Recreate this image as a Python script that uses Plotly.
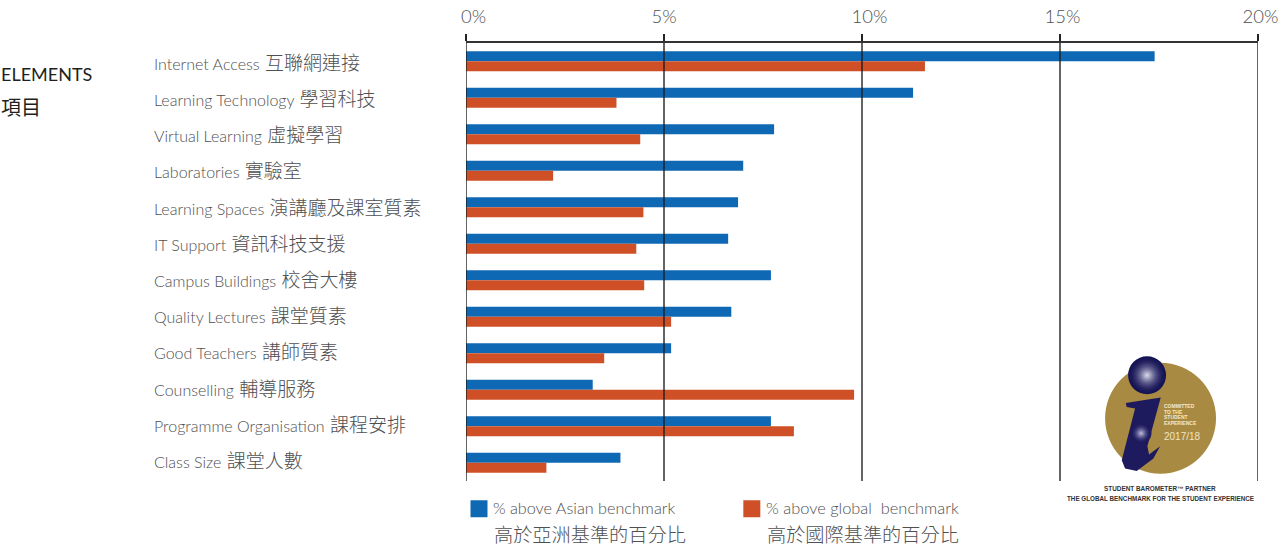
import plotly.graph_objects as go

categories = ["Internet Access", "Learning Technology", "Virtual Learning", "Laboratories",
              "Learning Spaces", "IT Support", "Campus Buildings", "Quality Lectures",
              "Good Teachers", "Counselling", "Programme Organisation", "Class Size"]
categories_zh = ["互聯網連接", "學習科技", "虛擬學習", "實驗室", "演講廳及課室質素", "資訊科技支援",
                 "校舍大樓", "課堂質素", "講師質素", "輔導服務", "課程安排", "課堂人數"]
asian = [17.39, 11.29, 7.78, 7.0, 6.87, 6.62, 7.7, 6.7, 5.18, 3.2, 7.7, 3.9]
global_ = [11.59, 3.8, 4.4, 2.2, 4.48, 4.3, 4.5, 5.18, 3.49, 9.8, 8.28, 2.03]
tick_vals = [0, 5, 10, 15, 20]
tick_text = ["\u00a0\u00a0\u00a00%", "5%", "\u00a0\u00a0\u00a010%", "\u00a015%", "\u00a020%"]

BLUE = "#0f68b4"
ORANGE = "#cf5027"
TEXT = "#4f5052"
LATIN = "Lato"
CJK = "Noto Sans CJK TC"

L, R, T, B = 465.5, 1258.0, 42.75, 480.75
def px(x): return (x - L) / (R - L)
def py(y): return (B - y) / (B - T)

fig = go.Figure()
fig.add_bar(y=categories, x=asian, orientation="h", name="% above Asian benchmark", marker_color=BLUE, marker_line_width=0)
fig.add_bar(y=categories, x=global_, orientation="h", name="% above global benchmark", marker_color=ORANGE, marker_line_width=0)

shapes, ann = [], []

def text(x, y, s, size, color=TEXT, family=LATIN, anchor="left", weight=None):
    f = dict(size=size, color=color, family=family)
    if weight: f["weight"] = weight
    ann.append(dict(xref="paper", yref="paper", x=px(x), y=py(y), text=s, showarrow=False,
                    xanchor=anchor, yanchor="middle", font=f, xshift=0, align="left", borderpad=0, borderwidth=0))

# gridlines above bars
for v in tick_vals:
    shapes.append(dict(type="line", xref="x", yref="paper", x0=v, x1=v, y0=0, y1=1,
                       line=dict(color="rgba(25,25,25,0.9)", width=1.5), layer="above"))

# category labels
for i, (c, z) in enumerate(zip(categories, categories_zh)):
    ann.append(dict(xref="paper", yref="y", x=px(151), y=c, yshift=0.3 * i, showarrow=False, xanchor="left",
                    yanchor="middle", align="left",
                    text=f'{c}\u00a0\u200a<span style="font-family:\'{CJK}\';font-size:19px">{z}</span>',
                    font=dict(family=LATIN, size=16, color=TEXT, weight=300)))

text(0, 74, "ELEMENTS", 18, color="#231f20", weight=400)
text(0, 106, "項目", 20, color="#231f20", family=CJK)

# legend
for x0, col in [(470, BLUE), (743, ORANGE)]:
    shapes.append(dict(type="rect", xref="paper", yref="paper", x0=px(x0), x1=px(x0 + 17), y0=py(500), y1=py(517),
                       fillcolor=col, line_width=0))
text(493, 507, "% above Asian benchmark", 16.2, weight=300)
text(493.5, 533.5, "高於亞洲基準的百分比", 19.2, family=CJK, weight=300)
text(766, 507, "% above global\u00a0\u00a0benchmark", 16.4, weight=300)
text(766.5, 533.5, "高於國際基準的百分比", 19.2, family=CJK, weight=300)

# logo
def circle(cx, cy, r, col):
    shapes.append(dict(type="circle", xref="paper", yref="paper", x0=px(cx - r), x1=px(cx + r),
                       y0=py(cy + r), y1=py(cy - r), fillcolor=col, line_width=0, layer="above"))
circle(1160.5, 418, 55.5, "#a98a42")
def lerp(a, b, t):
    return "#%02x%02x%02x" % tuple(int(a[i] + (b[i] - a[i]) * t) for i in range(3))
for k in range(18):
    t = k / 17
    circle(1147, 375, 18.5 * (1 - t) + 0.5, lerp((22, 20, 85), (225, 225, 240), t ** 1.8))
pts = [(257, 188), (362, 172), (322, 318), (327, 343), (360, 318), (340, 355), (290, 392), (255, 385),
       (245, 360), (285, 205), (260, 200)]
path = "M " + " L ".join(f"{px(1040 + a / 3):.5f},{py(340 + b / 3):.5f}" for a, b in pts) + " Z"
shapes.append(dict(type="path", xref="paper", yref="paper", path=path, fillcolor="#1d1a5e", line_width=0, layer="above"))
for k in range(10):
    t = k / 9
    circle(1141, 433, 10 * (1 - t) + 0.5, lerp((29, 26, 94), (200, 200, 228), t ** 1.8))
for y, s in [(406, "COMMITTED"), (411.5, "TO THE"), (417, "STUDENT"), (423, "EXPERIENCE")]:
    text(1164, y, s, 5, color="#f2e8cf", family="Liberation Sans", weight=700)
text(1164, 436, "2017/18", 10, color="#efe3c4", family="Liberation Sans")
text(1160, 488, "STUDENT BAROMETER™ PARTNER", 6.4, color="#333333", family="Liberation Sans", anchor="center", weight=700)
text(1160, 498, "THE GLOBAL BENCHMARK FOR THE STUDENT EXPERIENCE", 6.3, color="#333333", family="Liberation Sans", anchor="center", weight=700)

fig.update_layout(
    width=1281, height=550, autosize=False,
    margin=dict(l=L, r=1281 - R, t=T, b=550 - B, pad=0, autoexpand=False),
    paper_bgcolor="white", plot_bgcolor="white",
    barmode="group", bargap=0.45, bargroupgap=0, showlegend=False,
    shapes=shapes, annotations=ann,
    font=dict(family=LATIN, color=TEXT),
    xaxis=dict(side="top", range=[0, 20], tickmode="array", tickvals=tick_vals, ticktext=tick_text, automargin=False,
               ticks="outside", ticklen=7, tickwidth=1.5, tickcolor="#222222", showgrid=False, zeroline=False,
               showline=True, linecolor="#333333", linewidth=1.5, ticklabelstandoff=4,
               tickfont=dict(family=LATIN, size=18.5, color=TEXT, weight=300)),
    yaxis=dict(autorange=False, range=[11.5, -0.5], showticklabels=False, ticks="", showgrid=False, automargin=False,
               zeroline=False, showline=False, type="category", categoryorder="array", categoryarray=categories),
)
fig.write_html("out.html", config=dict(displayModeBar=False), post_script="document.body.style.margin='0';")
